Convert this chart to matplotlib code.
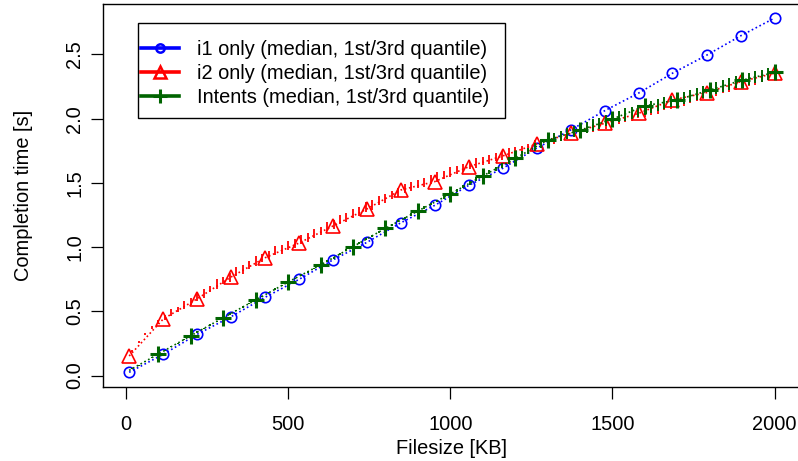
import numpy as np
import matplotlib
matplotlib.use('Agg')
import matplotlib.pyplot as plt
from matplotlib.lines import Line2D
from matplotlib.patches import Rectangle

plt.rcParams['font.family'] = ['Liberation Sans', 'DejaVu Sans']

# marker points (medians, seconds)
i1_x = [10, 115, 219, 324, 429, 534, 638, 743, 848, 952,
        1057, 1162, 1266, 1371, 1476, 1581, 1685, 1790, 1895, 2000]
i1_median = [0.025, 0.165, 0.32, 0.458, 0.609, 0.749, 0.90, 1.037, 1.19, 1.325,
             1.481, 1.614, 1.77, 1.912, 2.062, 2.20, 2.354, 2.494, 2.645, 2.784]

i2_x = i1_x
i2_median = [0.152, 0.44, 0.596, 0.767, 0.917, 1.032, 1.164, 1.297, 1.445, 1.51,
             1.626, 1.71, 1.803, 1.886, 1.964, 2.042, 2.146, 2.203, 2.288, 2.354]

intents_x = [10, 100, 200, 300, 400, 500, 600, 700, 800, 900, 1000,
             1100, 1200, 1300, 1400, 1500, 1600, 1700, 1800, 1900, 2000]
intents_median = [0.04, 0.167, 0.31, 0.45, 0.588, 0.728, 0.861, 1.003, 1.146, 1.281, 1.414,
                  1.554, 1.69, 1.834, 1.91, 1.997, 2.10, 2.146, 2.223, 2.30, 2.36]

# quantile bars, every 20 KB (milliseconds)
bar_x = list(range(20, 2001, 20))

i2_q1 = [185, 255, 312, 364, 400, 435, 460, 498, 515, 552,
         580, 600, 650, 675, 710, 732, 772, 790, 828, 855,
         885, 905, 935, 945, 980, 995, 1022, 1037, 1070, 1095,
         1123, 1140, 1177, 1195, 1225, 1242, 1273, 1290, 1327, 1345,
         1375, 1392, 1418, 1435, 1462, 1470, 1495, 1505, 1528, 1542,
         1570, 1585, 1608, 1617, 1640, 1650, 1672, 1680, 1703, 1715,
         1735, 1750, 1778, 1780, 1802, 1805, 1830, 1840, 1862, 1865,
         1885, 1893, 1920, 1920, 1942, 1955, 1975, 1980, 2008, 2013,
         2032, 2040, 2065, 2073, 2090, 2100, 2125, 2135, 2152, 2160,
         2180, 2200, 2205, 2227, 2238, 2255, 2265, 2287, 2300, 2320]
i2_q3 = [195, 268, 330, 382, 430, 470, 515, 535, 580, 600,
         635, 675, 695, 750, 770, 795, 845, 860, 895, 930,
         950, 970, 1005, 1020, 1050, 1060, 1095, 1110, 1140, 1160,
         1195, 1210, 1250, 1265, 1295, 1310, 1350, 1365, 1400, 1415,
         1440, 1460, 1495, 1510, 1525, 1540, 1565, 1585, 1595, 1620,
         1635, 1650, 1665, 1690, 1700, 1720, 1730, 1745, 1770, 1780,
         1790, 1805, 1835, 1845, 1855, 1875, 1888, 1900, 1920, 1930,
         1945, 1955, 1978, 1987, 2005, 2015, 2038, 2047, 2065, 2075,
         2095, 2105, 2128, 2137, 2155, 2167, 2185, 2195, 2218, 2227,
         2245, 2257, 2278, 2290, 2302, 2323, 2335, 2347, 2365, 2385]

intents_q1 = [52, 77, 106, 136, 163, 191, 220, 249, 277, 305,
              333, 361, 389, 417, 445, 473, 500, 529, 556, 583,
              610, 639, 666, 694, 722, 749, 776, 802, 829, 855,
              883, 911, 940, 968, 996, 1025, 1053, 1082, 1110, 1139,
              1165, 1192, 1219, 1246, 1273, 1299, 1325, 1352, 1378, 1404,
              1430, 1458, 1485, 1512, 1540, 1566, 1592, 1618, 1645, 1670,
              1695, 1722, 1748, 1775, 1800, 1815, 1830, 1842, 1858, 1870,
              1890, 1905, 1920, 1940, 1955, 1972, 1985, 2000, 2015, 2030,
              2045, 2060, 2072, 2090, 2100, 2118, 2130, 2148, 2160, 2178,
              2192, 2208, 2222, 2238, 2252, 2265, 2276, 2288, 2300, 2310]
intents_q3 = [58, 84, 114, 144, 172, 199, 230, 257, 287, 315,
              343, 371, 399, 427, 456, 483, 512, 539, 567, 594,
              622, 650, 678, 706, 734, 761, 788, 815, 841, 868,
              896, 925, 953, 982, 1010, 1039, 1068, 1096, 1125, 1154,
              1181, 1208, 1236, 1262, 1290, 1317, 1344, 1370, 1397, 1424,
              1455, 1484, 1512, 1542, 1570, 1598, 1626, 1654, 1682, 1712,
              1745, 1775, 1808, 1840, 1870, 1890, 1905, 1925, 1940, 1955,
              1975, 1995, 2005, 2030, 2045, 2060, 2080, 2090, 2110, 2125,
              2140, 2150, 2170, 2180, 2195, 2210, 2225, 2240, 2255, 2270,
              2285, 2300, 2315, 2330, 2345, 2358, 2370, 2382, 2395, 2420]

labels = ['i1 only (median, 1st/3rd quantile)',
          'i2 only (median, 1st/3rd quantile)',
          'Intents (median, 1st/3rd quantile)']

blue = '#0000FF'
red = '#FF0000'
green = '#006400'

fig = plt.figure(figsize=(7.98, 4.61), dpi=100)
# plot region runs slightly past the right edge of the image
ax = fig.add_axes([0.1295, 0.1612, 0.8736, 0.8301])

dotted = (0, (1, 1.6))

# i1
ax.plot(i1_x, i1_median, color=blue, lw=1.2, linestyle=dotted)
ax.plot(i1_x, i1_median, color=blue, lw=0, marker='o', ms=7.5,
        mfc='none', mew=1.2)

# i2
bx = np.array(bar_x)
ax.vlines(bx, np.array(i2_q1) / 1000, np.array(i2_q3) / 1000, color=red, lw=1.3)
ax.plot(i2_x, i2_median, color=red, lw=1.2, linestyle=dotted)
ax.plot(i2_x, i2_median, color=red, lw=0, marker='^', ms=9.5,
        mfc='none', mew=1.2)

# intents
ax.vlines(bx, np.array(intents_q1) / 1000, np.array(intents_q3) / 1000,
          color=green, lw=1.4)
ax.plot(intents_x, intents_median, color=green, lw=1.2, linestyle=dotted)
ax.plot(intents_x[1:], intents_median[1:], color=green, lw=0, marker='+',
        ms=11, mew=2.2)

ax.set_xlim(-69.6, 2079.6)
ax.set_ylim(-0.087, 2.893)
ax.set_xticks([0, 500, 1000, 1500, 2000])
ax.set_yticks([0, 0.5, 1.0, 1.5, 2.0, 2.5])
ax.set_yticklabels(['0.0', '0.5', '1.0', '1.5', '2.0', '2.5'])
for lab in ax.get_yticklabels():
    lab.set_rotation(90)
    lab.set_va('center')

ax.tick_params(direction='out', length=8.6, width=0.9, labelsize=14.4,
               color='black')
ax.tick_params(axis='x', pad=12)
ax.tick_params(axis='y', pad=5)
for s in ax.spines.values():
    s.set_linewidth(1.0)

ax.set_xlabel('Filesize [KB]', fontsize=14.4, va='center')
ax.xaxis.set_label_coords(0.5, -0.1605)
ax.set_ylabel('Completion time [s]', fontsize=14.4, va='center')
ax.yaxis.set_label_coords(-0.1140, 0.5)

# legend, box drawn by hand like R's
handles = [
    Line2D([], [], color=blue, lw=2.6, marker='o', ms=6, mfc='none', mew=1.8),
    Line2D([], [], color=red, lw=2.6, marker='^', ms=8, mfc='none', mew=1.8),
    Line2D([], [], color=green, lw=2.6, marker='+', ms=10, mew=2.2),
]
W, H = 798, 461
fig.patches.append(Rectangle((138.3 / W, 1 - 118 / H), (505 - 138.3) / W,
                             (118 - 23.3) / H, transform=fig.transFigure,
                             fill=False, edgecolor='black', lw=1.0))
fig.legend(handles, labels, loc='upper left',
           bbox_to_anchor=(141 / W, 1 - 40 / H), frameon=False,
           fontsize=14.4, handlelength=1.9, handletextpad=0.9,
           labelspacing=0.26, borderpad=0, borderaxespad=0)

fig.savefig('out.png', dpi=100)
